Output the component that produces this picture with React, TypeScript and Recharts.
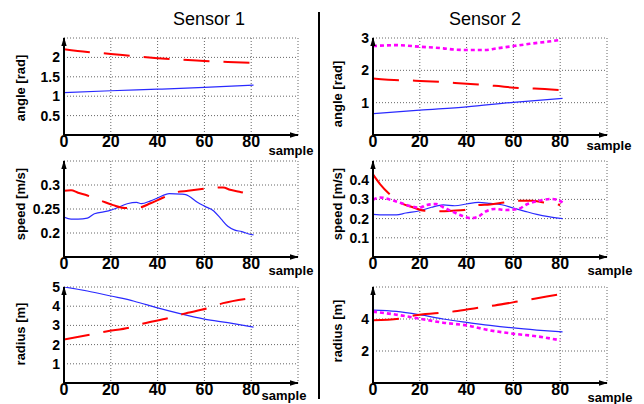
import React from 'react';
import { LineChart, Line, XAxis, YAxis, CartesianGrid } from 'recharts';

const FONT = '"Liberation Sans", Arial, Helvetica, sans-serif';

// ---------- data ----------
const xTicks = [0, 20, 40, 60, 80, 100];

// Sensor 1 angle
const s1AngleBlueX = [0, 20, 40, 60, 81];
const s1AngleBlue = [1.09, 1.14, 1.18, 1.225, 1.285];
const s1AngleRedX = [0, 10, 20, 30, 40, 50, 60, 70, 80];
const s1AngleRed = [2.21, 2.14, 2.09, 2.03, 1.98, 1.94, 1.91, 1.88, 1.86];

// Sensor 1 speed
const s1SpeedBlueX = [0, 3, 6, 10, 13, 19, 22, 27, 31, 33, 37, 40, 45, 50, 52, 57, 60, 64, 67, 70, 73, 76, 79, 81];
const s1SpeedBlue = [0.233, 0.229, 0.229, 0.231, 0.240, 0.246, 0.251, 0.261, 0.264, 0.261, 0.267, 0.273, 0.282, 0.281, 0.280, 0.264, 0.256, 0.246, 0.230, 0.214, 0.206, 0.203, 0.198, 0.196];
const s1SpeedRedX = [0, 3, 6, 10, 16, 21, 26, 32, 37, 42, 48, 53, 58, 64, 68, 71, 75, 81];
const s1SpeedRed = [0.288, 0.289, 0.284, 0.278, 0.267, 0.258, 0.252, 0.253, 0.262, 0.273, 0.285, 0.288, 0.291, 0.294, 0.295, 0.290, 0.286, 0.278];

// Sensor 1 radius
const s1RadiusBlueX = [0, 10, 20, 30, 40, 50, 60, 70, 81];
const s1RadiusBlue = [5.0, 4.79, 4.53, 4.26, 3.91, 3.6, 3.33, 3.14, 2.91];
const s1RadiusRedX = [0, 11, 18, 28, 34, 45, 51, 61, 68, 78];
const s1RadiusRed = [2.26, 2.51, 2.68, 2.89, 3.1, 3.39, 3.6, 3.88, 4.16, 4.39];

// Sensor 2 angle
const s2AngleBlueX = [0, 20, 40, 60, 81];
const s2AngleBlue = [0.66, 0.77, 0.87, 1.01, 1.13];
const s2AngleRedX = [0, 12, 18, 29, 35, 45, 52, 63, 69, 80];
const s2AngleRed = [1.75, 1.69, 1.68, 1.64, 1.61, 1.56, 1.52, 1.45, 1.44, 1.39];
const s2AngleMagX = [0, 5, 10, 20, 30, 35, 40, 48, 53, 60, 67, 75, 80];
const s2AngleMag = [2.75, 2.77, 2.78, 2.73, 2.68, 2.64, 2.63, 2.63, 2.68, 2.75, 2.82, 2.89, 2.94];

// Sensor 2 speed
const s2SpeedBlueX = [0, 5, 10, 14, 20, 25, 30, 35, 40, 45, 50, 55, 60, 65, 70, 75, 81];
const s2SpeedBlue = [0.222, 0.219, 0.219, 0.229, 0.241, 0.259, 0.271, 0.267, 0.276, 0.284, 0.279, 0.272, 0.255, 0.238, 0.222, 0.21, 0.2];
const s2SpeedRedX = [0, 3, 7, 12, 17, 22, 29, 34, 39, 45, 50, 56, 62, 68, 73, 80];
const s2SpeedRed = [0.43, 0.38, 0.328, 0.28, 0.259, 0.241, 0.238, 0.241, 0.245, 0.271, 0.274, 0.284, 0.293, 0.293, 0.284, 0.271];
const s2SpeedMagX = [0, 3, 7, 12, 17, 20, 23, 27, 30, 34, 38, 42, 45, 48, 52, 57, 62, 66, 70, 76, 79, 81];
const s2SpeedMag = [0.298, 0.31, 0.3, 0.281, 0.262, 0.257, 0.271, 0.276, 0.259, 0.236, 0.215, 0.202, 0.21, 0.236, 0.25, 0.245, 0.25, 0.276, 0.29, 0.302, 0.297, 0.284];

// Sensor 2 radius
const s2RadiusBlueX = [0, 10, 20, 30, 40, 50, 60, 70, 81];
const s2RadiusBlue = [4.56, 4.48, 4.27, 4.0, 3.79, 3.6, 3.44, 3.31, 3.19];
const s2RadiusRedX = [0, 11, 18, 28, 35, 45, 52, 63, 69, 79];
const s2RadiusRed = [3.92, 4.02, 4.23, 4.37, 4.48, 4.71, 4.85, 5.12, 5.27, 5.52];
const s2RadiusMagX = [0, 10, 20, 30, 40, 50, 60, 70, 80];
const s2RadiusMag = [4.46, 4.27, 4.02, 3.77, 3.6, 3.29, 3.08, 2.92, 2.67];

// ---------- helpers ----------
type Pt = { x: number; y: number };
const pts = (xs: number[], ys: number[]): Pt[] => xs.map((x, i) => ({ x, y: ys[i] }));

type Kind = 'blue' | 'red' | 'mag';
const lineStyle: Record<Kind, any> = {
  blue: { stroke: '#2a2aff', strokeWidth: 1.2 },
  red: { stroke: '#ff0000', strokeWidth: 2, strokeDasharray: '26 14' },
  mag: { stroke: '#ff00ff', strokeWidth: 2.6, strokeDasharray: '4 3' },
};

interface PanelProps {
  left: number;
  top: number;
  plotH: number;
  yDomain: [number, number];
  yTicks: number[];
  yHidden: number[];
  series: { kind: Kind; data: Pt[] }[];
}

const PLOT_W = 234;
const YW = 64;
const MT = 10;
const XH = 24;
const MR = 6;

function Panel({ left, top, plotH, yDomain, yTicks, yHidden, series }: PanelProps) {
  return (
    <div style={{ position: 'absolute', left: left - YW, top: top - MT }}>
      <LineChart
        width={YW + PLOT_W + MR}
        height={MT + plotH + XH}
        margin={{ top: MT, right: MR, bottom: 0, left: 0 }}
      >
        <CartesianGrid stroke="#666" strokeDasharray="1 2" strokeWidth={1} />
        <XAxis
          type="number"
          dataKey="x"
          domain={[0, 100]}
          allowDataOverflow
          ticks={xTicks}
          interval={0}
          tickFormatter={(v: number) => (v === 100 ? '' : String(v))}
          height={XH}
          tickLine={false}
          tickSize={0}
          tickMargin={1}
          axisLine={{ stroke: '#000', strokeWidth: 2, markerEnd: 'url(#axArrow)' }}
          tick={{ fill: '#000', fontSize: 16, fontWeight: 'bold', fontFamily: FONT }}
        />
        <YAxis
          type="number"
          dataKey="y"
          domain={yDomain}
          allowDataOverflow
          ticks={yTicks}
          interval={0}
          tickFormatter={(v: number) => (yHidden.includes(v) ? '' : String(v))}
          width={YW}
          tickLine={false}
          tickSize={0}
          tickMargin={4}
          axisLine={{ stroke: '#000', strokeWidth: 2, markerStart: 'url(#axArrow)' }}
          tick={{ fill: '#000', fontSize: 14, fontWeight: 'bold', fontFamily: FONT }}
        />
        {series.map((s, i) => (
          <Line
            key={i}
            data={s.data}
            dataKey="y"
            type="monotone"
            dot={false}
            activeDot={false}
            isAnimationActive={false}
            {...lineStyle[s.kind]}
          />
        ))}
      </LineChart>
    </div>
  );
}

const textBase: React.CSSProperties = {
  position: 'absolute',
  fontFamily: FONT,
  color: '#000',
  whiteSpace: 'nowrap',
  lineHeight: 1,
};

function Label({ x, y, text, size, bold = true, rotate = false }: { x: number; y: number; text: string; size: number; bold?: boolean; rotate?: boolean }) {
  return (
    <div
      style={{
        ...textBase,
        left: x,
        top: y,
        fontSize: size,
        fontWeight: bold ? 'bold' : 'normal',
        transform: `translate(-50%, -50%)${rotate ? ' rotate(-90deg)' : ''}`,
      }}
    >
      {text}
    </div>
  );
}

const S1X = 64;
const S2X = 373;
const ROW = [
  { top: 38, h: 97 },
  { top: 161, h: 96 },
  { top: 287, h: 96 },
];

export default function App() {
  return (
    <div style={{ position: 'absolute', left: 0, top: 0, width: 644, height: 404, background: '#fff', overflow: 'hidden' }}>
      <svg width={0} height={0} style={{ position: 'absolute' }}>
        <defs>
          <marker
            id="axArrow"
            viewBox="0 0 10 6"
            markerWidth={9}
            markerHeight={6}
            refX={9}
            refY={3}
            markerUnits="userSpaceOnUse"
            orient="auto-start-reverse"
          >
            <path d="M0,0 L10,3 L0,6 z" fill="#000" />
          </marker>
        </defs>
      </svg>

      <Panel left={S1X} top={ROW[0].top} plotH={ROW[0].h} yDomain={[0, 2.5]} yTicks={[0, 0.5, 1, 1.5, 2, 2.5]} yHidden={[0, 2.5]}
        series={[{ kind: 'blue', data: pts(s1AngleBlueX, s1AngleBlue) }, { kind: 'red', data: pts(s1AngleRedX, s1AngleRed) }]} />
      <Panel left={S1X} top={ROW[1].top} plotH={ROW[1].h} yDomain={[0.15, 0.35]} yTicks={[0.15, 0.2, 0.25, 0.3, 0.35]} yHidden={[0.15, 0.35]}
        series={[{ kind: 'blue', data: pts(s1SpeedBlueX, s1SpeedBlue) }, { kind: 'red', data: pts(s1SpeedRedX, s1SpeedRed) }]} />
      <Panel left={S1X} top={ROW[2].top} plotH={ROW[2].h} yDomain={[0, 5]} yTicks={[0, 1, 2, 3, 4, 5]} yHidden={[0]}
        series={[{ kind: 'blue', data: pts(s1RadiusBlueX, s1RadiusBlue) }, { kind: 'red', data: pts(s1RadiusRedX, s1RadiusRed) }]} />

      <Panel left={S2X} top={ROW[0].top} plotH={ROW[0].h} yDomain={[0, 3]} yTicks={[0, 1, 2, 3]} yHidden={[0]}
        series={[{ kind: 'blue', data: pts(s2AngleBlueX, s2AngleBlue) }, { kind: 'red', data: pts(s2AngleRedX, s2AngleRed) }, { kind: 'mag', data: pts(s2AngleMagX, s2AngleMag) }]} />
      <Panel left={S2X} top={ROW[1].top} plotH={ROW[1].h} yDomain={[0, 0.5]} yTicks={[0, 0.1, 0.2, 0.3, 0.4, 0.5]} yHidden={[0, 0.5]}
        series={[{ kind: 'blue', data: pts(s2SpeedBlueX, s2SpeedBlue) }, { kind: 'red', data: pts(s2SpeedRedX, s2SpeedRed) }, { kind: 'mag', data: pts(s2SpeedMagX, s2SpeedMag) }]} />
      <Panel left={S2X} top={ROW[2].top} plotH={ROW[2].h} yDomain={[0, 6]} yTicks={[0, 2, 4, 6]} yHidden={[0, 6]}
        series={[{ kind: 'blue', data: pts(s2RadiusBlueX, s2RadiusBlue) }, { kind: 'red', data: pts(s2RadiusRedX, s2RadiusRed) }, { kind: 'mag', data: pts(s2RadiusMagX, s2RadiusMag) }]} />

      {/* separator */}
      <div style={{ position: 'absolute', left: 318, top: 12, width: 2, height: 387, background: '#000' }} />

      {/* titles */}
      <Label x={209} y={19} text="Sensor 1" size={18} bold={false} />
      <Label x={485} y={19} text="Sensor 2" size={18} bold={false} />

      {/* y labels */}
      <Label x={20} y={88} text="angle [rad]" size={13} rotate />
      <Label x={20} y={204} text="speed [m/s]" size={13} rotate />
      <Label x={20} y={334} text="radius [m]" size={13} rotate />
      <Label x={337} y={94} text="angle [rad]" size={13} rotate />
      <Label x={337} y={204} text="speed [m/s]" size={13} rotate />
      <Label x={337} y={331} text="radius [m]" size={13} rotate />

      {/* x labels */}
      <Label x={291} y={150} text="sample" size={13} />
      <Label x={291} y={270} text="sample" size={13} />
      <Label x={284} y={395} text="sample" size={13} />
      <Label x={609} y={145} text="sample" size={13} />
      <Label x={610} y={270} text="sample" size={13} />
      <Label x={610} y={397} text="sample" size={13} />
    </div>
  );
}
